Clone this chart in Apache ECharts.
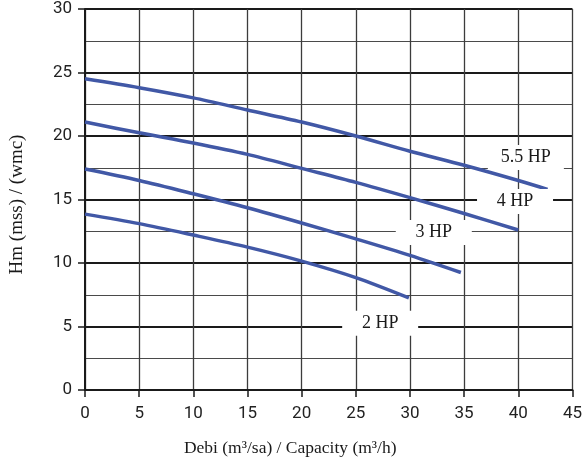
<!DOCTYPE html>
<html>
<head>
<meta charset="utf-8">
<script src="https://cdn.jsdelivr.net/npm/echarts@6/dist/echarts.min.js"></script>
<style>html,body{margin:0;padding:0;background:#fff}#c{width:585px;height:462px}</style>
</head>
<body>
<div id="c"></div>
<script>
const xTicks = [0, 5, 10, 15, 20, 25, 30, 35, 40, 45];
const yTicks = [0, 5, 10, 15, 20, 25, 30];
const seriesNames = ['5.5 HP', '4 HP', '3 HP', '2 HP'];
const q55 = [0, 5, 10, 15, 20, 25, 30, 35, 40, 42.7];
const h55 = [24.5, 23.8, 23.0, 22.05, 21.1, 20.0, 18.8, 17.7, 16.5, 15.8];
const q4 = [0, 5, 10, 15, 20, 25, 30, 35, 40];
const h4 = [21.1, 20.25, 19.45, 18.55, 17.45, 16.35, 15.15, 13.9, 12.6];
const q3 = [0, 5, 10, 15, 20, 25, 30, 34.7];
const h3 = [17.4, 16.5, 15.45, 14.35, 13.15, 11.9, 10.6, 9.25];
const q2 = [0, 5, 10, 15, 20, 25, 29.9];
const h2 = [13.85, 13.1, 12.2, 11.25, 10.15, 8.85, 7.25];
const labelQ = [40.7, 39.7, 32.2, 27.25];
const labelH = [18.3, 14.85, 12.4, 5.25];

const pair = (xs, ys) => xs.map((x, i) => [x, ys[i]]);
const curves = [pair(q55, h55), pair(q4, h4), pair(q3, h3), pair(q2, h2)];

const serif = '"Liberation Serif", "DejaVu Serif", serif';
const sans = 'Roboto, "Liberation Sans", sans-serif';
const blue = '#4158a6';

const lineSeries = curves.map((d, i) => ({
  name: seriesNames[i],
  type: 'line',
  data: d,
  smooth: 0.3,
  showSymbol: false,
  symbol: 'none',
  lineStyle: { color: blue, width: 3.5 },
  emphasis: { disabled: true },
  z: 3
}));

const labelSeries = {
  type: 'scatter',
  symbol: 'rect',
  symbolSize: [76, 25],
  itemStyle: { color: '#fff', opacity: 1 },
  emphasis: { disabled: true },
  silent: true,
  data: labelQ.map((x, i) => ({ value: [x, labelH[i]], name: seriesNames[i] })),
  label: {
    show: true,
    position: 'inside',
    formatter: p => p.name,
    fontFamily: serif,
    fontSize: 18,
    color: '#1a1a1a',
    opacity: 1
  },
  z: 5
};

const chart = echarts.init(document.getElementById('c'), null, { renderer: 'canvas' });
chart.setOption({
  animation: false,
  backgroundColor: '#fff',
  grid: { left: 83, right: 9, top: 9, bottom: 70, containLabel: false },
  xAxis: {
    type: 'value',
    min: xTicks[0], max: xTicks[xTicks.length - 1], interval: 5,
    name: 'Debi (m³/sa) / Capacity (m³/h)',
    nameLocation: 'middle',
    nameGap: 49,
    nameTextStyle: { fontFamily: serif, fontSize: 17.5, color: '#1a1a1a', padding: [0, 77, 0, 0] },
    axisLine: { show: true, lineStyle: { color: '#1a1a1a', width: 2 } },
    axisTick: { show: true, length: 7, lineStyle: { color: '#1a1a1a', width: 1.5 } },
    axisLabel: { fontFamily: sans, fontSize: 17, color: '#222', margin: 15 },
    splitLine: { show: true, lineStyle: { color: '#3c3c3c', width: 1.3 } }
  },
  yAxis: {
    type: 'value',
    min: yTicks[0], max: yTicks[yTicks.length - 1], interval: 5,
    name: 'Hm (mss) / (wmc)',
    nameLocation: 'middle',
    nameGap: 58,
    nameTextStyle: { fontFamily: serif, fontSize: 19, color: '#1a1a1a', padding: [0, 10, 0, 0] },
    axisLine: { show: true, lineStyle: { color: '#1a1a1a', width: 2 } },
    axisTick: { show: true, length: 7, lineStyle: { color: '#1a1a1a', width: 1.5 } },
    axisLabel: { fontFamily: sans, fontSize: 17, color: '#222', margin: 13 },
    splitLine: { show: true, lineStyle: { color: '#1a1a1a', width: 1.8 } },
    minorTick: { show: false, splitNumber: 2 },
    minorSplitLine: { show: true, lineStyle: { color: '#4a4a4a', width: 1.1 } }
  },
  series: [...lineSeries, labelSeries]
});
</script>
</body>
</html>
